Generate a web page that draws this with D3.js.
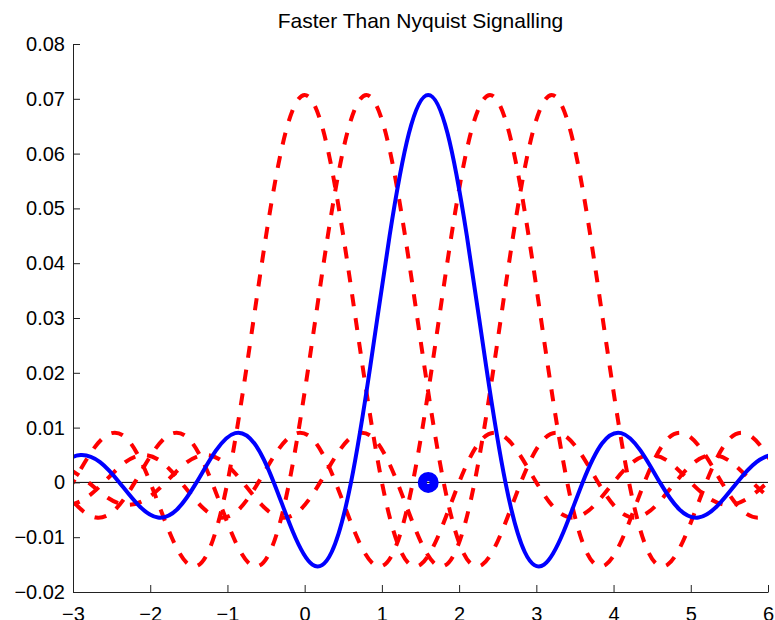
<!DOCTYPE html>
<meta charset="utf-8">
<style>
    body { margin: 0; background: white; }
    svg { display: block; background: white; }
    text { font-family: "Liberation Sans", Arial, sans-serif; fill: black; }
</style>
<svg width="775" height="620"></svg>
<script src="https://d3js.org/d3.v7.min.js"></script>
<script>
    // pulse shape: value at offset from pulse centre
    var pulseOffsets = [-6.25, -6, -5.75, -5.5, -5.25, -5, -4.75, -4.5, -4.25, -4,
        -3.75, -3.5, -3.25, -3, -2.75, -2.5, -2.25, -2, -1.75, -1.5, -1.25, -1,
        -0.75, -0.5, -0.25, 0, 0.25, 0.5, 0.75, 1, 1.25, 1.5, 1.75, 2, 2.25, 2.5,
        2.75, 3, 3.25, 3.5, 3.75, 4, 4.25, 4.5, 4.75, 5, 5.25, 5.5, 5.75, 6, 6.25];
    var pulseValues = [0.0025, 0, -0.0028, -0.0041, -0.0030, 0, 0.0034, 0.0050, 0.0037, 0,
        -0.0042, -0.0064, -0.0049, 0, 0.0058, 0.0090, 0.0071, 0, -0.0091, -0.0150, -0.0127, 0,
        0.0212, 0.0450, 0.0637, 0.0707, 0.0637, 0.0450, 0.0212, 0, -0.0127, -0.0150, -0.0091, 0, 0.0071, 0.0090,
        0.0058, 0, -0.0049, -0.0064, -0.0042, 0, 0.0037, 0.0050, 0.0034, 0, -0.0030, -0.0041, -0.0028, 0, 0.0025];

    var redCenters = [0, 0.8, 2.4, 3.2];   // neighbouring pulses (dashed)
    var blueCenter = 1.6;                  // the pulse being sampled
    var markerPoint = [1.6, 0];

    var xTicks = [-3, -2, -1, 0, 1, 2, 3, 4, 5, 6];
    var xTickLabels = ["\u22123", "\u22122", "\u22121", "0", "1", "2", "3", "4", "5", "6"];
    var yTicks = [-0.02, -0.01, 0, 0.01, 0.02, 0.03, 0.04, 0.05, 0.06, 0.07, 0.08];
    var yTickLabels = ["\u22120.02", "\u22120.01", "0", "0.01", "0.02", "0.03", "0.04", "0.05", "0.06", "0.07", "0.08"];

    var svg = d3.select("svg"),
        margin = {left: 73, right: 7, top: 44, bottom: 28},
        width = 775 - margin.left - margin.right,
        height = 620 - margin.top - margin.bottom;

    var x = d3.scaleLinear().domain([-3, 6]).range([0, width]);
    var y = d3.scaleLinear().domain([-0.02, 0.08]).range([height, 0]);

    var g = svg.append("g")
        .attr("transform", "translate(" + margin.left + "," + margin.top + ")");

    svg.append("defs").append("clipPath").attr("id", "clip")
        .append("rect").attr("width", width).attr("height", height);

    var line = d3.line()
        .x(function (d) { return x(d[0]); })
        .y(function (d) { return y(d[1]); })
        .curve(d3.curveNatural);

    function pulse(c) {
        return pulseOffsets.map(function (o, i) { return [c + o, pulseValues[i]]; });
    }

    var plot = g.append("g").attr("clip-path", "url(#clip)");

    // zero line
    plot.append("path")
        .attr("d", line([[-3, 0], [6, 0]]))
        .attr("fill", "none")
        .attr("stroke", "black")
        .attr("stroke-width", 1);

    plot.selectAll(".red")
        .data(redCenters)
        .enter().append("path")
        .attr("class", "red")
        .attr("d", function (c) { return line(pulse(c)); })
        .attr("fill", "none")
        .attr("stroke", "#ff0000")
        .attr("stroke-width", 4)
        .attr("stroke-dasharray", "12,12");

    plot.append("path")
        .attr("d", line(pulse(blueCenter)))
        .attr("fill", "none")
        .attr("stroke", "#0000ff")
        .attr("stroke-width", 4);

    g.append("circle")
        .attr("cx", x(markerPoint[0]))
        .attr("cy", y(markerPoint[1]))
        .attr("r", 6)
        .attr("fill", "none")
        .attr("stroke", "#0000ff")
        .attr("stroke-width", 9);

    // axes (ticks inward, no box)
    var xAxis = d3.axisBottom(x).tickValues(xTicks)
        .tickFormat(function (d, i) { return xTickLabels[i]; })
        .tickSizeInner(-7).tickSizeOuter(0).tickPadding(15);
    var yAxis = d3.axisLeft(y).tickValues(yTicks)
        .tickFormat(function (d, i) { return yTickLabels[i]; })
        .tickSizeInner(-7).tickSizeOuter(0).tickPadding(8);

    var gx = g.append("g").attr("transform", "translate(0," + height + ")").call(xAxis);
    var gy = g.append("g").call(yAxis);
    [gx, gy].forEach(function (a) {
        a.selectAll("path, line").attr("stroke", "#222").attr("stroke-width", 1);
        a.selectAll("text").style("font-size", "20px").attr("font-family", null);
    });

    svg.append("text")
        .attr("x", margin.left + width / 2)
        .attr("y", 28)
        .attr("text-anchor", "middle")
        .style("font-size", "21px")
        .text("Faster Than Nyquist Signalling");
</script>
